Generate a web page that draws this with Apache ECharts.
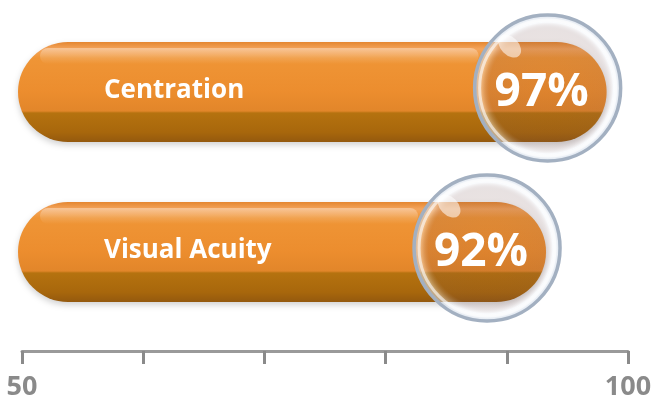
<!DOCTYPE html>
<html><head><meta charset="utf-8">
<script src="https://cdn.jsdelivr.net/npm/echarts@6/dist/echarts.min.js"></script>
<style>html,body{margin:0;padding:0;background:#fff}#c{width:656px;height:403px}</style>
</head><body><div id="c"></div>
<script>
const categories = ['Centration', 'Visual Acuity'];
const values = [97, 92];
const axisMin = 50, axisMax = 100, axisStep = 10;
const shownTickLabels = ['50', '100'];

const FONT = "'Open Sans', 'Noto Sans', sans-serif";
const chart = echarts.init(document.getElementById('c'));

function renderItem(params, api) {
  const v = api.value(0);
  const ci = api.value(1);
  const name = categories[params.dataIndex];
  const start = api.coord([axisMin, ci]);
  const end = api.coord([v, ci]);
  const cy = end[1];
  const h = 100;
  const x0 = start[0] - 4;
  const x1 = end[0] + 15;
  const top = cy - h / 2;
  const w = x1 - x0;
  const cx = end[0] - 44;
  const ccy = cy - 4;
  const R = 73;
  return {
    type: 'group',
    children: [
      { type: 'rect', shape: { x: x0, y: top, width: w, height: h, r: h / 2 },
        style: {
          fill: new echarts.graphic.LinearGradient(0, 0, 0, 1, [
            { offset: 0, color: '#E48630' },
            { offset: 0.07, color: '#F4A55C' },
            { offset: 0.16, color: '#EF9536' },
            { offset: 0.5, color: '#EC8D2E' },
            { offset: 0.69, color: '#E2862A' },
            { offset: 0.71, color: '#B5720F' },
            { offset: 0.9, color: '#A8670C' },
            { offset: 1, color: '#94590E' }
          ]),
          shadowBlur: 6, shadowColor: 'rgba(0,0,0,0.18)', shadowOffsetY: 3
        } },
      { type: 'rect', shape: { x: x0 + 22, y: top + 6, width: w - 150, height: 16, r: 8 },
        style: {
          fill: new echarts.graphic.LinearGradient(0, 0, 0, 1, [
            { offset: 0, color: 'rgba(255,255,255,0.35)' },
            { offset: 1, color: 'rgba(255,255,255,0)' }
          ])
        } },
      { type: 'circle', shape: { cx: cx, cy: ccy, r: R },
        style: {
          fill: new echarts.graphic.RadialGradient(0.5, 0.5, 0.5, [
            { offset: 0, color: 'rgba(120,60,40,0.12)' },
            { offset: 0.78, color: 'rgba(110,70,70,0.16)' },
            { offset: 0.88, color: 'rgba(240,244,250,0.35)' },
            { offset: 1, color: 'rgba(195,208,225,0.75)' }
          ]),
          stroke: '#A3B0C1', lineWidth: 3.5
        } },
      { type: 'circle', shape: { cx: cx, cy: ccy, r: R - 5 },
        style: { fill: null, stroke: 'rgba(255,255,255,0.6)', lineWidth: 3 } },
      { type: 'circle', shape: { cx: 0, cy: 0, r: 9 }, x: cx - 38, y: ccy - 42,
        scaleX: 1.5, rotation: -0.8,
        style: { fill: 'rgba(255,255,255,0.55)' } },
      { type: 'text', x: x0 + 86, y: cy - 1,
        style: { text: name, fill: '#fff', fontFamily: FONT, fontWeight: 'bold', fontSize: 26,
          align: 'left', verticalAlign: 'middle' } },
      { type: 'text', x: cx - 6, y: ccy + 5,
        style: { text: v + '%', fill: '#fff', fontFamily: FONT, fontWeight: 'bold', fontSize: 46,
          align: 'center', verticalAlign: 'middle' } }
    ]
  };
}

chart.setOption({
  backgroundColor: '#fff',
  animation: false,
  grid: { left: 22, right: 28, top: 12, height: 320 },
  xAxis: {
    type: 'value', min: axisMin, max: axisMax, interval: axisStep,
    position: 'bottom', offset: 19,
    splitLine: { show: false },
    axisLine: { show: true, lineStyle: { color: '#9A9A9A', width: 3 } },
    axisTick: { show: true, length: 13, lineStyle: { color: '#8A8A8A', width: 3 } },
    axisLabel: {
      formatter: function (val) { return shownTickLabels.indexOf(String(val)) >= 0 ? String(val) : ''; },
      color: '#8A8A8A', fontFamily: FONT, fontWeight: 'bold', fontSize: 27, margin: 23
    }
  },
  yAxis: { type: 'category', data: categories, inverse: true, show: false },
  series: [{
    type: 'custom',
    renderItem: renderItem,
    encode: { x: 0, y: 1 },
    data: values.map(function (v, i) { return [v, i]; })
  }]
});
</script>
</body></html>
